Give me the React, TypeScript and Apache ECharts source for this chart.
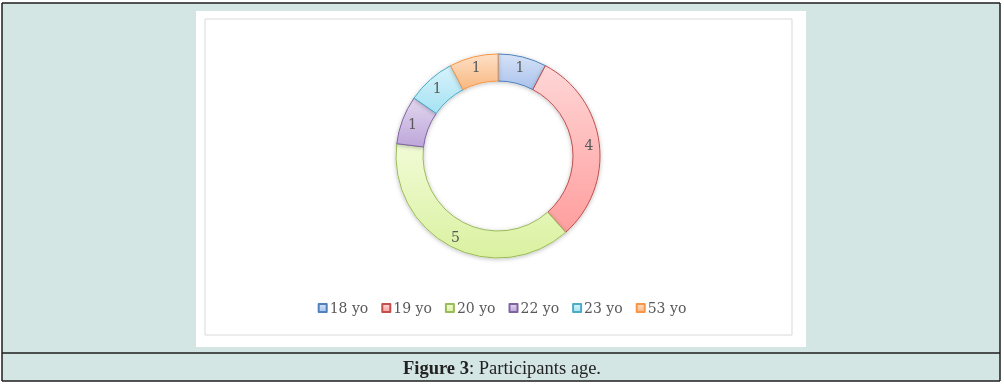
import React, { useEffect, useRef } from "react";
import * as echarts from "echarts";

const categories = ["18 yo", "19 yo", "20 yo", "22 yo", "23 yo", "53 yo"];
const values = [1, 4, 5, 1, 1, 1];
const fillLight = ["#d6e2f7", "#ffd6d6", "#f1fbd6", "#e2d7ee", "#d8f3fb", "#fde0c6"];
const fillDark = ["#a9c2ec", "#ff9e9e", "#daf1a0", "#bda6da", "#a5e2f3", "#f9b880"];
const borders = ["#4f81bd", "#c0504d", "#9bbb59", "#8064a2", "#4bacc6", "#f79646"];

export default function App() {
  const ref = useRef<HTMLDivElement>(null);
  useEffect(() => {
    if (!ref.current) return;
    const chart = echarts.init(ref.current, undefined, { renderer: "svg" });
    const line = "#1e1e1e";
    chart.setOption({
      animation: false,
      graphic: [
        { type: "rect", z: -10, shape: { x: 0, y: 0, width: 1004, height: 387 }, style: { fill: "#ffffff" } },
        { type: "rect", z: -9, shape: { x: 2, y: 3, width: 998, height: 378 }, style: { fill: "#d3e6e4" } },
        { type: "rect", z: -8, shape: { x: 196, y: 11, width: 610, height: 336 }, style: { fill: "#ffffff" } },
        { type: "rect", z: -7, shape: { x: 205, y: 19, width: 587, height: 316 }, style: { fill: "none", stroke: "#d9d9d9", lineWidth: 1 } },
        { type: "line", shape: { x1: 2, y1: 3, x2: 1000, y2: 3 }, style: { stroke: line, lineWidth: 1.5 } },
        { type: "line", shape: { x1: 2, y1: 3, x2: 2, y2: 381 }, style: { stroke: line, lineWidth: 1.5 } },
        { type: "line", shape: { x1: 1000, y1: 3, x2: 1000, y2: 381 }, style: { stroke: line, lineWidth: 1.5 } },
        { type: "line", shape: { x1: 2, y1: 353, x2: 1000, y2: 353 }, style: { stroke: line, lineWidth: 1.5 } },
        { type: "line", shape: { x1: 2, y1: 381, x2: 1000, y2: 381 }, style: { stroke: line, lineWidth: 1.5 } },
        {
          type: "text",
          x: 502,
          y: 368,
          style: {
            text: "{b|Figure 3}: Participants age.",
            rich: { b: { fontWeight: "bold", fontFamily: "Liberation Serif", fontSize: 18.5, fill: "#222" } },
            fontFamily: "Liberation Serif",
            fontSize: 18.5,
            fill: "#222",
            align: "center",
            verticalAlign: "middle",
          },
        },
      ],
      legend: {
        bottom: 67,
        left: "center",
        itemWidth: 8,
        itemHeight: 8,
        itemGap: 13,
        icon: "rect",
        textStyle: { fontFamily: "DejaVu Serif", fontSize: 14, color: "#595959", padding: [0, 0, 0, -2] },
        data: categories,
      },
      series: [
        {
          type: "pie",
          center: [498, 156],
          radius: [75, 102],
          startAngle: 90,
          clockwise: true,
          label: {
            show: true,
            position: "inside",
            formatter: "{c}",
            fontFamily: "DejaVu Serif",
            fontSize: 14,
            color: "#595959",
          },
          labelLine: { show: false },
          itemStyle: { shadowBlur: 4, shadowColor: "rgba(0,0,0,0.25)", shadowOffsetY: 1 },
          data: categories.map((name, i) => ({
            name,
            value: values[i],
            itemStyle: {
              color: new echarts.graphic.LinearGradient(0, 0, 0, 1, [
                { offset: 0, color: fillLight[i] },
                { offset: 1, color: fillDark[i] },
              ]),
              borderColor: borders[i],
              borderWidth: 1,
            },
          })),
        },
      ],
    });
    return () => chart.dispose();
  }, []);
  return <div ref={ref} style={{ position: "fixed", left: 0, top: 0, width: 1004, height: 387 }} />;
}
